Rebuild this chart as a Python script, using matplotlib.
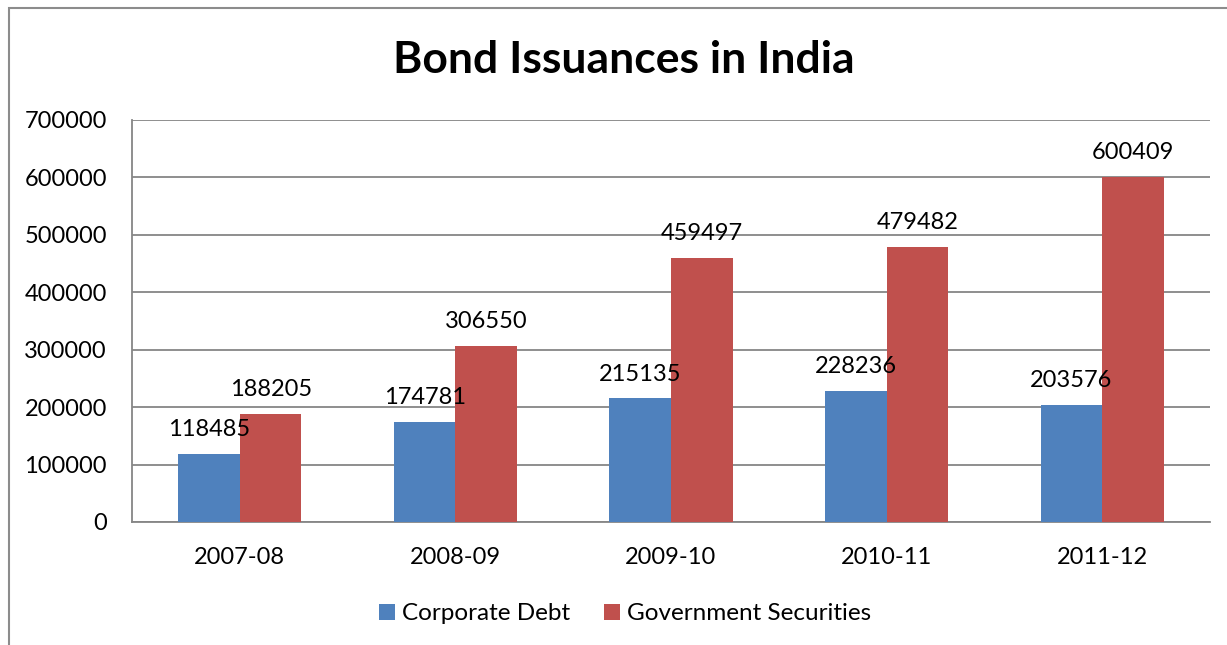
import numpy as np
import matplotlib.pyplot as plt
from matplotlib.patches import Rectangle

# data
years = ['2007-08', '2008-09', '2009-10', '2010-11', '2011-12']
corporate_debt = [118485, 174781, 215135, 228236, 203576]
govt_securities = [188205, 306550, 459497, 479482, 600409]
y_ticks = [0, 100000, 200000, 300000, 400000, 500000, 600000, 700000]

blue = '#4f81bd'
red = '#c0504d'
grid_col = '#868686'

plt.rcParams['font.family'] = ['Lato', 'DejaVu Sans']

W, H = 1227, 645
fig = plt.figure(figsize=(W / 100, H / 100), dpi=100)

# outer chart border (cut off at right and bottom like the original)
fig.patches.append(Rectangle((9 / W, -0.1), 1.2, (645 - 8) / H + 0.1,
                             transform=fig.transFigure, fill=False,
                             edgecolor='#8c8c8c', linewidth=1.5))

left, right, top, bottom = 132, 1210, 120, 522
ax = fig.add_axes([left / W, (H - bottom) / H, (right - left) / W, (bottom - top) / H])

x = np.arange(len(years))
w = 0.2857
b1 = ax.bar(x - w / 2, corporate_debt, w, color=blue, label='Corporate Debt', zorder=3)
b2 = ax.bar(x + w / 2, govt_securities, w, color=red, label='Government Securities', zorder=3)

for bars, vals in [(b1, corporate_debt), (b2, govt_securities)]:
    for bar, v in zip(bars, vals):
        ax.annotate(str(v), (bar.get_x() + bar.get_width() / 2, v),
                    xytext=(0, 10), textcoords='offset points',
                    ha='center', va='bottom', fontsize=17, zorder=4)

ax.set_xlim(-0.5, len(years) - 0.5)
ax.set_ylim(0, 700000)
ax.set_yticks(y_ticks)
ax.set_yticklabels([str(t) for t in y_ticks])
ax.set_xticks(x)
ax.set_xticklabels(years)
ax.tick_params(axis='y', length=0, pad=18, labelsize=17)
ax.tick_params(axis='x', length=0, pad=18, labelsize=17)
ax.yaxis.grid(True, color=grid_col, linewidth=1.3, zorder=0)
ax.set_axisbelow(True)
for s in ['top', 'right']:
    ax.spines[s].set_visible(False)
for s in ['left', 'bottom']:
    ax.spines[s].set_color(grid_col)
    ax.spines[s].set_linewidth(1.3)

fig.text(624 / W, 1 - 60 / H, 'Bond Issuances in India', ha='center', va='center',
         fontsize=32, fontweight='bold')

fig.legend(handles=[b1, b2], loc='center', bbox_to_anchor=(625 / W, 1 - 614 / H),
           ncol=2, frameon=False, fontsize=17.5, handlelength=0.65, handleheight=0.65,
           handletextpad=0.3, columnspacing=1.4)

fig.savefig('out.png', dpi=100)
